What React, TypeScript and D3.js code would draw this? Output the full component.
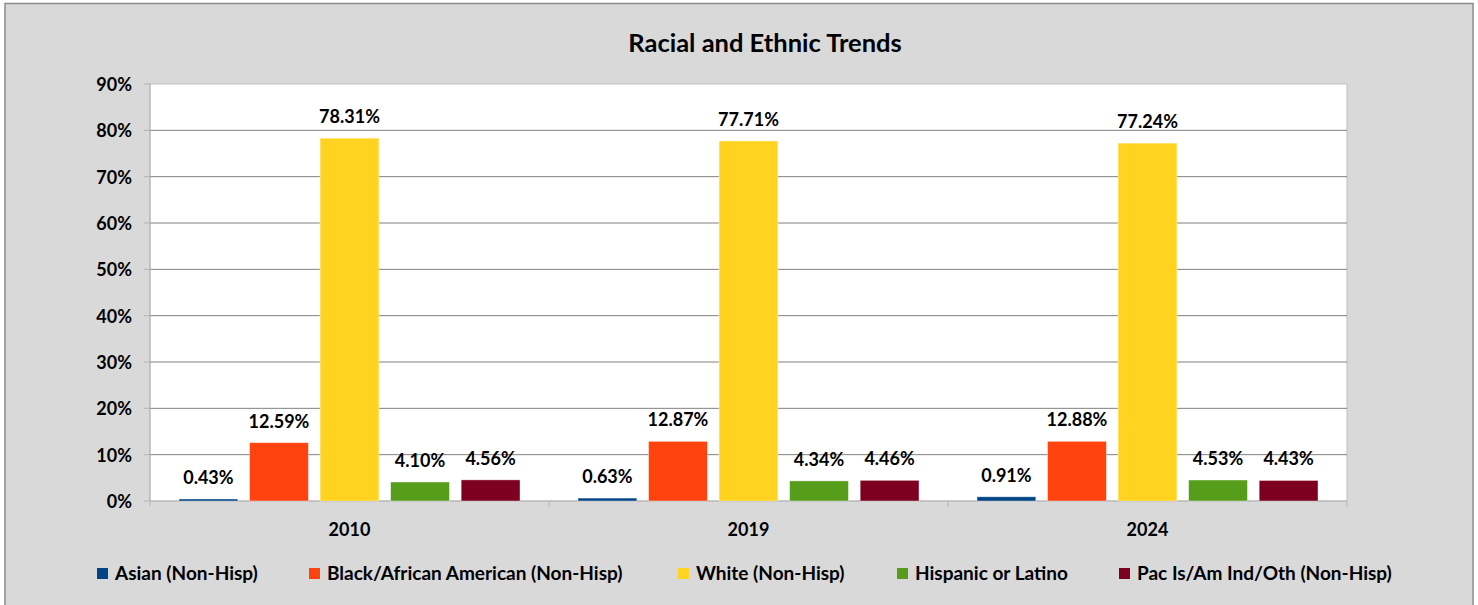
import React from "react";
import * as d3 from "d3";

const years = ["2010", "2019", "2024"];
const seriesNames = [
  "Asian (Non-Hisp)",
  "Black/African American (Non-Hisp)",
  "White (Non-Hisp)",
  "Hispanic or Latino",
  "Pac Is/Am Ind/Oth (Non-Hisp)",
];
const seriesColors = ["#004586", "#ff420e", "#ffd320", "#579d1c", "#7e0021"];
const asian = [0.43, 0.63, 0.91];
const black = [12.59, 12.87, 12.88];
const white = [78.31, 77.71, 77.24];
const hispanic = [4.1, 4.34, 4.53];
const pacIs = [4.56, 4.46, 4.43];
const yTicks = [0, 10, 20, 30, 40, 50, 60, 70, 80, 90];
const legendX = [97, 309, 678, 897, 1119];

const W = 1478;
const H = 605;
const FONT = "Lato, 'Open Sans', sans-serif";

export default function App() {
  const series = [asian, black, white, hispanic, pacIs];
  const left = 150, right = 1347, top = 84, bottom = 501;
  const x0 = d3.scaleBand<string>().domain(years).range([left, right]).padding(0);
  const gw = x0.bandwidth();
  const x1 = d3
    .scaleBand<number>()
    .domain(d3.range(series.length))
    .range([29, gw - 29])
    .paddingInner(0.166)
    .paddingOuter(0);
  const y = d3.scaleLinear().domain([0, 90]).range([bottom, top]);

  return (
    <svg
      width={W}
      height={H}
      style={{ position: "absolute", left: 0, top: 0, fontFamily: FONT }}
    >
      <rect x={0} y={0} width={W} height={H} fill="#ffffff" />
      <rect x={5} y={3.5} width={1468} height={620} fill="#d9d9d9" stroke="#8c8c8c" strokeWidth={1.5} />
      <text x={765} y={52} textAnchor="middle" fontSize={25.5} fontWeight="bold" fill="#000">
        Racial and Ethnic Trends
      </text>
      <rect x={left} y={top} width={right - left} height={bottom - top} fill="#ffffff" stroke="#c0c0c0" strokeWidth={1} />
      {yTicks.map((t) => (
        <g key={t}>
          {t > 0 && t < 90 && (
            <line x1={left} x2={right} y1={y(t)} y2={y(t)} stroke="#808080" strokeWidth={1} />
          )}
          <line x1={left - 6} x2={left} y1={y(t)} y2={y(t)} stroke="#b3b3b3" strokeWidth={1} />
          <text x={132} y={y(t) + 7} textAnchor="end" fontSize={18} fontWeight="bold" fill="#000">
            {t}%
          </text>
        </g>
      ))}
      <line x1={left} x2={left} y1={top} y2={bottom + 5} stroke="#b3b3b3" strokeWidth={1} />
      <line x1={left} x2={right} y1={bottom} y2={bottom} stroke="#b3b3b3" strokeWidth={1} />
      {years.map((yr, i) => (
        <g key={yr}>
          <line
            x1={(x0(yr) as number) + gw}
            x2={(x0(yr) as number) + gw}
            y1={bottom}
            y2={bottom + 6}
            stroke="#b3b3b3"
          />
          <text x={(x0(yr) as number) + gw / 2} y={536} textAnchor="middle" fontSize={18} fontWeight="bold" fill="#000">
            {yr}
          </text>
          {series.map((s, k) => {
            const bx = (x0(yr) as number) + (x1(k) as number);
            const v = s[i];
            return (
              <g key={k}>
                <rect
                  x={bx}
                  y={y(v)}
                  width={x1.bandwidth()}
                  height={bottom - y(v)}
                  fill={seriesColors[k]}
                  stroke="#ffffff"
                  strokeOpacity={0.5}
                  strokeWidth={0.8}
                />
                <text
                  x={bx + x1.bandwidth() / 2}
                  y={y(v) - 15}
                  textAnchor="middle"
                  fontSize={18}
                  fontWeight="bold"
                  fill="#000"
                >
                  {v.toFixed(2)}%
                </text>
              </g>
            );
          })}
        </g>
      ))}
      {seriesNames.map((n, k) => (
        <g key={n}>
          <rect x={legendX[k]} y={568} width={11} height={11} fill={seriesColors[k]} />
          <text x={legendX[k] + 18} y={580} fontSize={19} fontWeight="bold" fill="#000">
            {n}
          </text>
        </g>
      ))}
    </svg>
  );
}
